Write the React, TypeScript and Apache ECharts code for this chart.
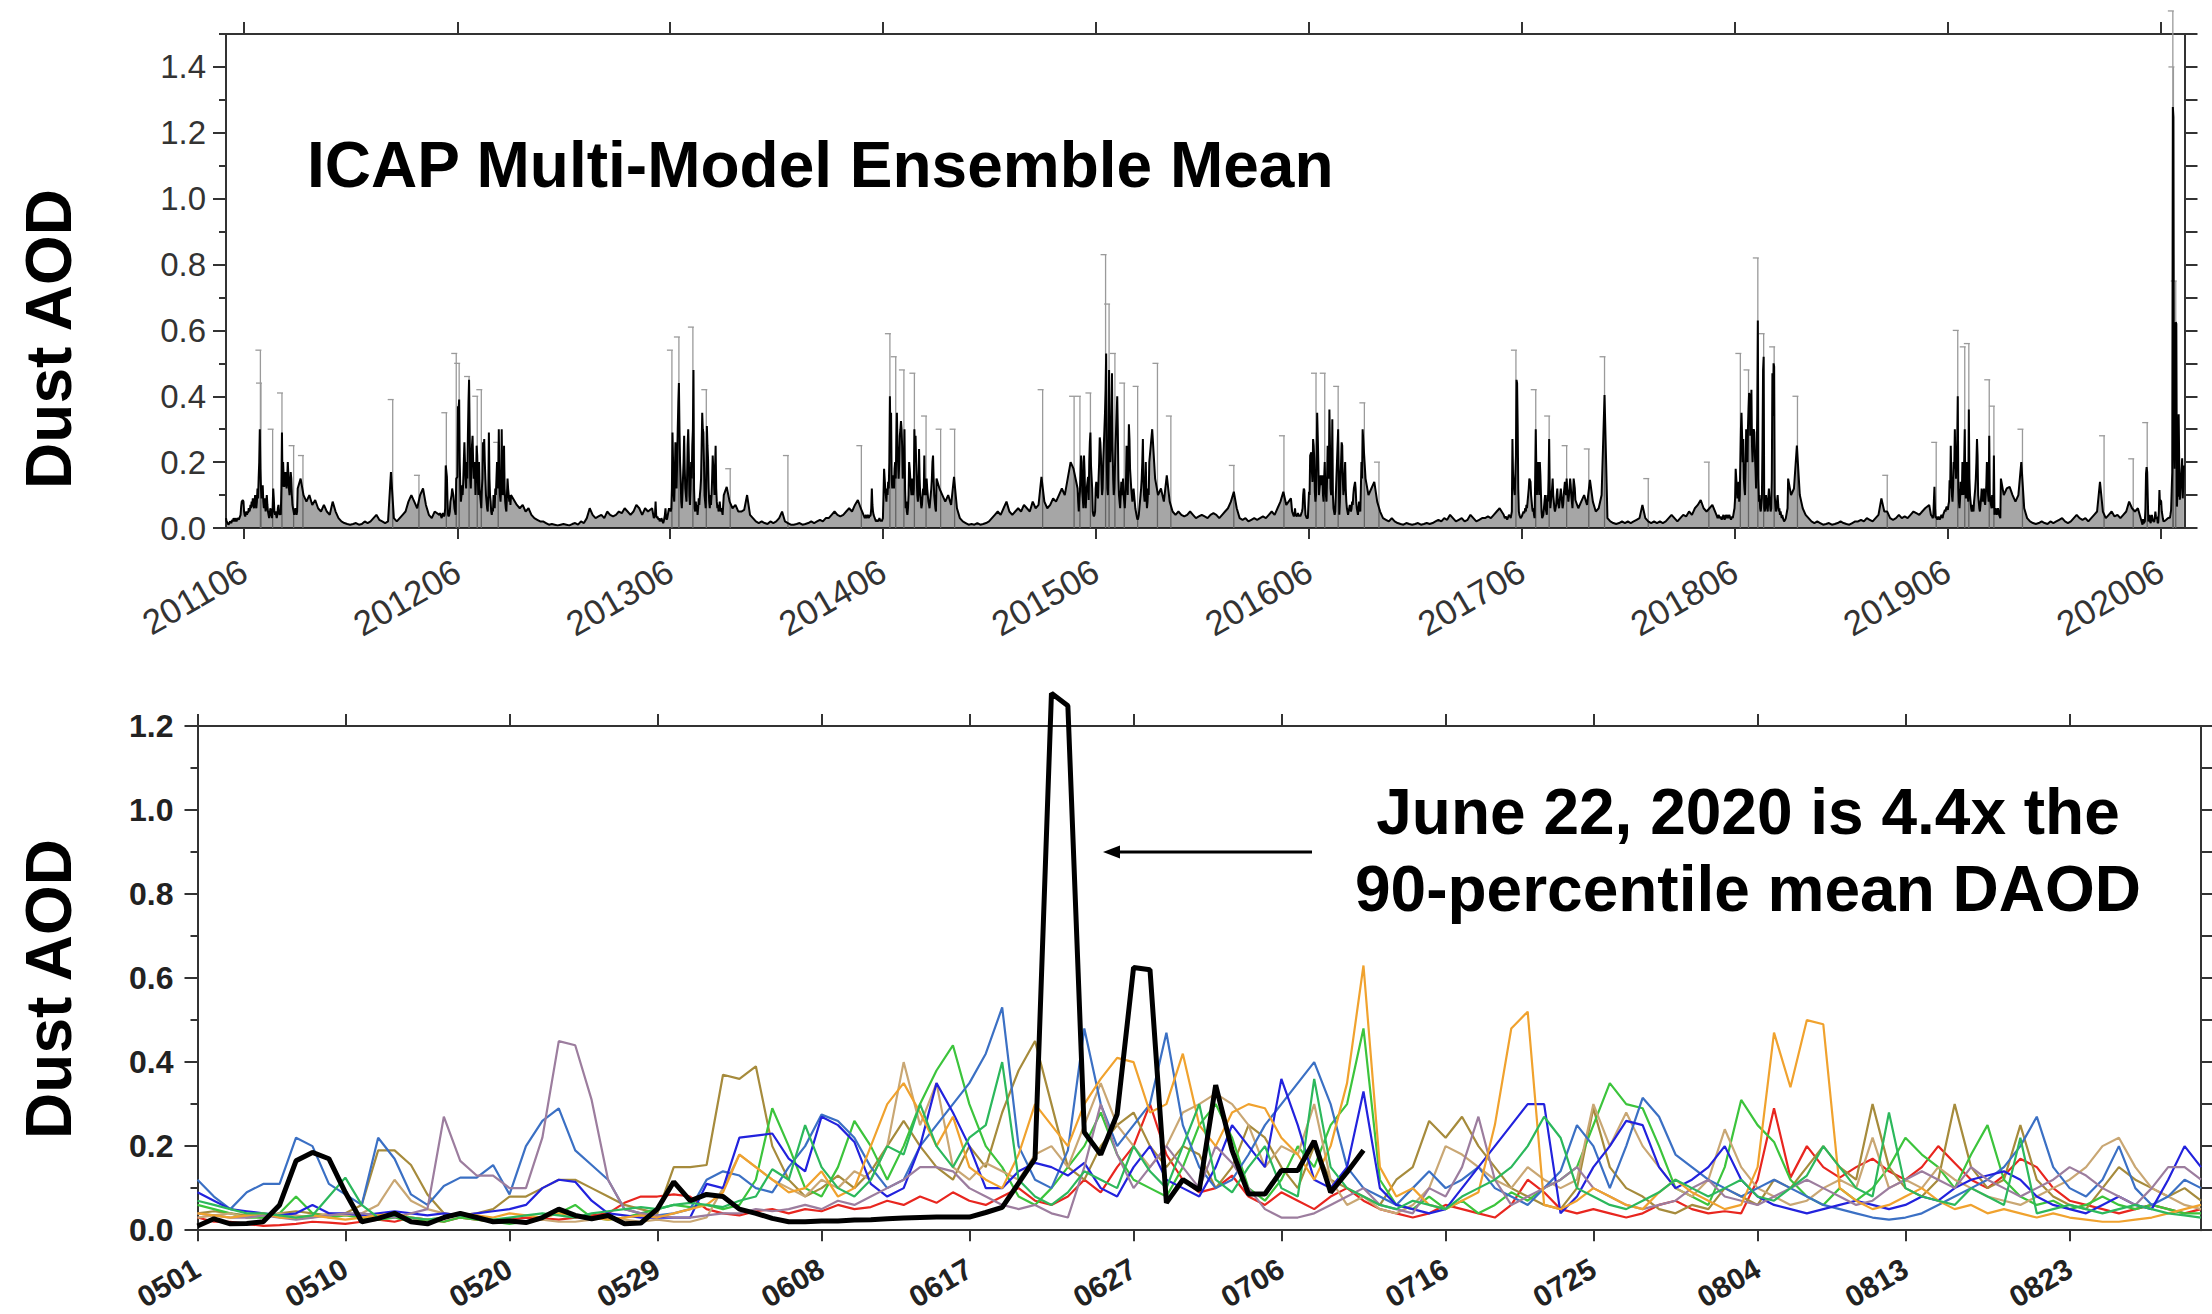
import React, { useEffect, useRef } from "react";
import * as echarts from "echarts";

// ---------- Bottom panel: daily dust AOD, May 1 (day 0) to Aug 31 (day 122) ----------
const dayTicks = [0, 9, 19, 28, 38, 47, 57, 66, 76, 85, 95, 104, 114];
const bottomYMajor = [0, 0.2, 0.4, 0.6, 0.8, 1.0, 1.2];
const topYMajor = [0, 0.2, 0.4, 0.6, 0.8, 1.0, 1.2, 1.4];
const topTickYears = [2011, 2012, 2013, 2014, 2015, 2016, 2017, 2018, 2019, 2020];

const y2011 = [
  0.03,0.02,0.02,0.015,0.01,0.012,0.015,0.02,0.018,0.015,
  0.02,0.025,0.02,0.03,0.025,0.02,0.03,0.025,0.02,0.025,
  0.03,0.028,0.025,0.03,0.035,0.04,0.065,0.08,0.08,0.085,
  0.08,0.05,0.04,0.035,0.045,0.05,0.04,0.05,0.045,0.06,
  0.05,0.055,0.07,0.06,0.08,0.065,0.09,0.07,0.06,0.08,
  0.1,0.07,0.06,0.08,0.12,0.09,0.15,0.2,0.3,0.18,
  0.12,0.09,0.1,0.13,0.08,0.06,0.09,0.07,0.05,0.08,
  0.1,0.07,0.05,0.04,0.03,0.04,0.06,0.05,0.04,0.03,
  0.06,0.12,0.09,0.05,0.04,0.05,0.04,0.03,0.04,0.06,
  0.07,0.05,0.04,0.045,0.04,0.12,0.29,0.125,0.2,0.15,
  0.125,0.15,0.17,0.14,0.12,0.15,0.2,0.16,0.12,0.1,
  0.13,0.17,0.15,0.1,0.07,0.06,0.05,0.04,0.05,0.06,
  0.05,0.04,0.05,
];
const y2012 = [
  0.04,0.045,0.04,0.035,0.03,0.04,0.045,0.04,0.035,0.04,
  0.06,0.19,0.19,0.155,0.085,0.04,0.035,0.04,0.05,0.08,
  0.08,0.1,0.12,0.12,0.1,0.08,0.06,0.05,0.04,0.15,
  0.15,0.155,0.37,0.36,0.39,0.2,0.12,0.08,0.1,0.13,
  0.1,0.14,0.2,0.26,0.2,0.15,0.12,0.2,0.15,0.28,
  0.38,0.45,0.3,0.15,0.12,0.2,0.25,0.28,0.2,0.15,
  0.2,0.18,0.1,0.15,0.25,0.22,0.15,0.1,0.2,0.12,
  0.1,0.08,0.06,0.12,0.15,0.26,0.22,0.27,0.2,0.15,
  0.1,0.08,0.06,0.05,0.1,0.29,0.15,0.1,0.08,0.05,
  0.04,0.06,0.05,0.1,0.08,0.06,0.12,0.1,0.15,0.2,
  0.15,0.12,0.3,0.15,0.1,0.08,0.12,0.3,0.15,0.1,
  0.12,0.25,0.12,0.08,0.06,0.05,0.1,0.15,0.12,0.1,
  0.08,0.1,0.07,
];
const y2013 = [
  0.06,0.05,0.04,0.03,0.03,0.04,0.08,0.04,0.03,0.035,
  0.03,0.025,0.03,0.02,0.025,0.02,0.03,0.025,0.02,0.015,
  0.02,0.03,0.04,0.06,0.03,0.025,0.03,0.04,0.05,0.06,
  0.055,0.06,0.05,0.06,0.12,0.29,0.2,0.1,0.08,0.15,
  0.26,0.2,0.12,0.2,0.3,0.38,0.44,0.3,0.2,0.15,
  0.08,0.06,0.1,0.15,0.2,0.28,0.18,0.12,0.1,0.08,
  0.15,0.25,0.3,0.22,0.1,0.07,0.12,0.2,0.15,0.25,
  0.3,0.48,0.12,0.06,0.05,0.08,0.05,0.07,0.04,0.06,
  0.09,0.07,0.1,0.12,0.15,0.25,0.35,0.3,0.29,0.2,
  0.1,0.08,0.06,0.15,0.31,0.25,0.21,0.12,0.08,0.06,
  0.1,0.07,0.1,0.15,0.22,0.18,0.15,0.1,0.18,0.25,
  0.12,0.08,0.06,0.07,0.05,0.06,0.08,0.06,0.05,0.06,
  0.05,0.04,0.04,
];
const y2014 = [
  0.03,0.035,0.04,0.03,0.035,0.04,0.035,0.03,0.04,0.035,
  0.04,0.06,0.12,0.07,0.05,0.04,0.035,0.03,0.025,0.02,
  0.02,0.025,0.02,0.02,0.025,0.03,0.025,0.02,0.025,0.02,
  0.02,0.03,0.1,0.18,0.15,0.12,0.1,0.08,0.12,0.1,
  0.14,0.12,0.2,0.4,0.25,0.35,0.15,0.12,0.16,0.14,
  0.12,0.18,0.2,0.15,0.25,0.35,0.25,0.2,0.15,0.2,
  0.28,0.3,0.325,0.3,0.25,0.15,0.2,0.18,0.3,0.12,
  0.06,0.08,0.05,0.04,0.06,0.1,0.2,0.18,0.15,0.12,
  0.1,0.15,0.12,0.1,0.12,0.3,0.2,0.28,0.2,0.15,
  0.1,0.08,0.12,0.24,0.15,0.1,0.08,0.06,0.07,0.1,
  0.12,0.1,0.22,0.1,0.12,0.1,0.15,0.12,0.1,0.08,
  0.07,0.06,0.08,0.1,0.12,0.15,0.2,0.22,0.15,0.1,
  0.08,0.06,0.05,
];
const y2015 = [
  0.12,0.08,0.05,0.09,0.11,0.11,0.22,0.2,0.11,0.085,
  0.06,0.22,0.17,0.085,0.06,0.105,0.125,0.125,0.155,0.085,
  0.2,0.26,0.29,0.19,0.155,0.12,0.05,0.04,0.035,0.04,
  0.05,0.12,0.14,0.13,0.1,0.09,0.15,0.2,0.275,0.26,
  0.22,0.15,0.1,0.12,0.2,0.25,0.3,0.35,0.42,0.53,
  0.2,0.12,0.1,0.19,0.48,0.3,0.2,0.25,0.3,0.47,
  0.25,0.15,0.1,0.12,0.18,0.25,0.3,0.35,0.4,0.3,
  0.15,0.1,0.08,0.06,0.1,0.14,0.1,0.12,0.15,0.1,
  0.08,0.06,0.1,0.14,0.25,0.2,0.1,0.2,0.315,0.27,
  0.18,0.15,0.12,0.1,0.08,0.1,0.12,0.1,0.08,0.06,
  0.05,0.04,0.03,0.025,0.03,0.04,0.06,0.08,0.1,0.12,
  0.15,0.2,0.27,0.15,0.1,0.08,0.12,0.2,0.1,0.06,
  0.08,0.12,0.1,
];
const y2016 = [
  0.09,0.07,0.05,0.045,0.04,0.035,0.04,0.06,0.04,0.04,
  0.035,0.04,0.045,0.04,0.035,0.04,0.035,0.04,0.045,0.05,
  0.06,0.1,0.12,0.115,0.07,0.04,0.035,0.03,0.03,0.03,
  0.03,0.11,0.1,0.22,0.225,0.23,0.17,0.14,0.27,0.25,
  0.21,0.11,0.08,0.1,0.2,0.35,0.28,0.2,0.1,0.1,
  0.14,0.16,0.15,0.13,0.16,0.1,0.08,0.15,0.2,0.12,
  0.1,0.08,0.15,0.25,0.2,0.15,0.36,0.25,0.12,0.1,
  0.15,0.33,0.1,0.06,0.05,0.04,0.05,0.1,0.15,0.2,
  0.25,0.3,0.3,0.04,0.08,0.15,0.2,0.26,0.25,0.15,
  0.1,0.12,0.15,0.2,0.12,0.08,0.06,0.05,0.04,0.05,
  0.06,0.07,0.06,0.05,0.06,0.08,0.07,0.1,0.12,0.13,
  0.14,0.12,0.08,0.06,0.05,0.04,0.06,0.08,0.06,0.05,
  0.12,0.2,0.15,
];
const y2017 = [
  0.04,0.035,0.03,0.03,0.035,0.03,0.025,0.03,0.035,0.04,
  0.04,0.035,0.03,0.04,0.05,0.27,0.165,0.13,0.13,0.1,
  0.1,0.22,0.45,0.44,0.31,0.12,0.05,0.04,0.035,0.03,
  0.03,0.035,0.04,0.04,0.05,0.045,0.05,0.06,0.05,0.07,
  0.06,0.08,0.1,0.12,0.15,0.15,0.14,0.1,0.08,0.06,
  0.05,0.06,0.04,0.03,0.15,0.3,0.18,0.1,0.15,0.2,
  0.15,0.1,0.2,0.16,0.1,0.05,0.03,0.03,0.04,0.06,
  0.08,0.1,0.06,0.05,0.04,0.1,0.08,0.15,0.27,0.12,
  0.06,0.08,0.1,0.12,0.15,0.1,0.08,0.06,0.05,0.06,
  0.07,0.1,0.12,0.08,0.07,0.06,0.08,0.1,0.12,0.1,
  0.08,0.06,0.07,0.1,0.12,0.14,0.12,0.1,0.15,0.12,
  0.1,0.08,0.1,0.12,0.15,0.13,0.1,0.08,0.06,0.1,
  0.15,0.15,0.12,
];
const y2018 = [
  0.04,0.035,0.03,0.035,0.04,0.03,0.03,0.035,0.03,0.025,
  0.03,0.035,0.04,0.03,0.025,0.03,0.04,0.035,0.03,0.04,
  0.035,0.03,0.04,0.035,0.03,0.025,0.03,0.035,0.03,0.04,
  0.05,0.06,0.09,0.18,0.15,0.12,0.09,0.1,0.14,0.08,
  0.1,0.2,0.3,0.35,0.28,0.2,0.27,0.15,0.12,0.1,
  0.18,0.3,0.25,0.2,0.3,0.36,0.41,0.4,0.28,0.3,
  0.42,0.25,0.2,0.28,0.3,0.29,0.22,0.18,0.12,0.2,
  0.35,0.63,0.15,0.08,0.1,0.06,0.05,0.07,0.09,0.25,
  0.48,0.52,0.06,0.05,0.07,0.1,0.08,0.06,0.05,0.09,
  0.12,0.09,0.07,0.05,0.06,0.15,0.47,0.34,0.5,0.49,
  0.1,0.07,0.05,0.06,0.08,0.1,0.07,0.05,0.06,0.04,
  0.05,0.04,0.03,0.04,0.03,0.025,0.02,0.02,0.025,0.03,
  0.04,0.05,0.06,
];
const y2019 = [
  0.07,0.06,0.05,0.04,0.04,0.035,0.03,0.035,0.08,0.125,
  0.06,0.03,0.035,0.03,0.025,0.03,0.035,0.03,0.025,0.03,
  0.035,0.04,0.035,0.03,0.04,0.045,0.05,0.055,0.05,0.06,
  0.065,0.06,0.055,0.07,0.08,0.145,0.12,0.25,0.15,0.1,
  0.08,0.12,0.2,0.18,0.3,0.2,0.15,0.22,0.25,0.4,
  0.12,0.08,0.06,0.09,0.14,0.12,0.1,0.2,0.14,0.1,
  0.2,0.3,0.12,0.09,0.15,0.2,0.1,0.08,0.36,0.15,
  0.1,0.08,0.06,0.05,0.07,0.06,0.05,0.08,0.1,0.12,
  0.15,0.2,0.27,0.22,0.1,0.08,0.06,0.05,0.07,0.09,
  0.12,0.1,0.08,0.1,0.12,0.08,0.07,0.1,0.13,0.2,
  0.15,0.1,0.08,0.28,0.1,0.08,0.07,0.06,0.1,0.08,
  0.06,0.22,0.04,0.05,0.06,0.05,0.04,0.05,0.06,0.05,
  0.04,0.035,0.03,
];
// 2020, May 1 .. Jul 11
const y2020 = [
  0.01,0.027,0.015,0.016,0.02,0.06,0.165,0.185,0.17,0.09,
  0.02,0.028,0.04,0.02,0.015,0.03,0.04,0.03,0.02,0.022,
  0.018,0.03,0.05,0.035,0.027,0.035,0.015,0.017,0.05,0.115,
  0.07,0.085,0.08,0.05,0.04,0.028,0.02,0.02,0.022,0.022,
  0.024,0.025,0.027,0.029,0.03,0.031,0.031,0.031,0.042,0.054,
  0.112,0.17,1.278,1.248,0.233,0.18,0.276,0.625,0.62,0.065,
  0.12,0.095,0.345,0.19,0.086,0.086,0.142,0.142,0.212,0.09,
  0.138,0.19,
];

// ---------- Top panel off-season values: every 5 days from Sep 1 to late April ----------
const off2011 = [0.12,0.15,0.1,0.08,0.1,0.07, 0.085,0.06,0.05,0.07,0.05,0.04, 0.08,0.05,0.03,0.02,0.015,0.012, 0.01,0.012,0.015,0.01,0.012,0.02, 0.015,0.02,0.03,0.04,0.025,0.02, 0.015,0.02,0.17,0.03,0.02,0.03, 0.04,0.05,0.08,0.1,0.08,0.06, 0.1,0.12,0.07,0.04,0.03,0.05];
const off2012 = [0.1,0.085,0.07,0.06,0.07,0.05, 0.06,0.04,0.03,0.025,0.02,0.02, 0.015,0.01,0.012,0.01,0.008,0.01, 0.012,0.01,0.008,0.012,0.015,0.01, 0.02,0.015,0.03,0.06,0.04,0.03, 0.035,0.04,0.03,0.05,0.04,0.035, 0.04,0.05,0.045,0.06,0.05,0.04, 0.05,0.07,0.06,0.04,0.06,0.05];
const off2013 = [0.1,0.125,0.08,0.06,0.07,0.05, 0.05,0.055,0.1,0.04,0.03,0.02, 0.015,0.02,0.015,0.012,0.02,0.015, 0.02,0.03,0.05,0.02,0.015,0.01, 0.01,0.012,0.015,0.01,0.012,0.015, 0.02,0.015,0.02,0.025,0.02,0.03, 0.03,0.04,0.05,0.04,0.035,0.04, 0.05,0.06,0.05,0.07,0.085,0.06];
const off2014 = [0.15,0.12,0.1,0.08,0.1,0.07, 0.155,0.06,0.03,0.02,0.015,0.01, 0.012,0.01,0.015,0.01,0.012,0.015, 0.02,0.03,0.04,0.05,0.04,0.06, 0.08,0.05,0.04,0.05,0.06,0.05, 0.07,0.06,0.05,0.08,0.06,0.07, 0.155,0.08,0.06,0.07,0.09,0.08, 0.1,0.12,0.1,0.15,0.2,0.18];
const off2015 = [0.2,0.3,0.15,0.1,0.12,0.08, 0.16,0.08,0.05,0.04,0.05,0.04, 0.035,0.04,0.05,0.04,0.03,0.035, 0.04,0.035,0.03,0.04,0.045,0.04, 0.03,0.04,0.05,0.06,0.08,0.11, 0.06,0.03,0.025,0.03,0.02,0.025, 0.03,0.025,0.03,0.035,0.03,0.04, 0.05,0.04,0.06,0.08,0.11,0.07];
const off2016 = [0.3,0.15,0.1,0.12,0.14,0.08, 0.05,0.03,0.025,0.02,0.03,0.02, 0.015,0.012,0.01,0.015,0.012,0.01, 0.012,0.015,0.01,0.012,0.015,0.012, 0.015,0.02,0.025,0.02,0.03,0.025, 0.04,0.03,0.02,0.025,0.03,0.02, 0.025,0.04,0.03,0.02,0.025,0.03, 0.03,0.035,0.03,0.04,0.05,0.06];
const off2017 = [0.085,0.06,0.08,0.1,0.07,0.146, 0.08,0.05,0.06,0.1,0.404,0.03, 0.02,0.015,0.012,0.015,0.02,0.015, 0.02,0.015,0.02,0.025,0.03,0.07, 0.03,0.02,0.015,0.02,0.015,0.02, 0.015,0.02,0.03,0.04,0.03,0.02, 0.03,0.04,0.035,0.05,0.04,0.06, 0.07,0.085,0.06,0.05,0.06,0.07];
const off2018 = [0.15,0.1,0.12,0.25,0.1,0.06, 0.04,0.03,0.02,0.015,0.02,0.015, 0.01,0.012,0.015,0.01,0.012,0.015, 0.02,0.015,0.012,0.01,0.015,0.02, 0.02,0.025,0.02,0.03,0.025,0.02, 0.03,0.04,0.09,0.05,0.05,0.03, 0.025,0.03,0.04,0.03,0.035,0.03, 0.04,0.05,0.045,0.04,0.05,0.06];
const off2019 = [0.15,0.1,0.12,0.125,0.1,0.08, 0.1,0.2,0.06,0.03,0.02,0.015, 0.012,0.015,0.02,0.015,0.012,0.02, 0.015,0.02,0.025,0.03,0.02,0.015, 0.02,0.03,0.04,0.03,0.025,0.03, 0.02,0.03,0.04,0.05,0.14,0.05, 0.03,0.04,0.05,0.035,0.04,0.03, 0.04,0.05,0.08,0.06,0.05,0.06];

// Ensemble spread tops (gray bars)
const spreadTops: [string, number][] = [
  ["2011-06-29",0.54],["2011-06-30",0.44],["2011-07-20",0.3],["2011-08-05",0.41],["2011-08-25",0.25],["2011-09-10",0.22],["2012-02-11",0.39],["2012-03-27",0.16],
  ["2012-05-13",0.35],["2012-05-30",0.53],["2012-06-04",0.5],["2012-06-21",0.46],["2012-07-05",0.4],["2012-07-12",0.42],["2012-08-10",0.26],
  ["2013-06-04",0.54],["2013-06-16",0.58],["2013-07-10",0.61],["2013-08-02",0.42],["2013-09-12",0.18],["2013-12-20",0.22],["2014-04-25",0.25],
  ["2014-06-13",0.59],["2014-06-23",0.52],["2014-07-07",0.48],["2014-07-25",0.47],["2014-08-14",0.34],["2014-09-08",0.3],["2014-10-02",0.3],["2015-03-02",0.42],["2015-04-25",0.4],["2015-05-05",0.4],
  ["2015-05-23",0.41],["2015-06-18",0.83],["2015-06-24",0.68],["2015-07-04",0.53],["2015-07-20",0.44],["2015-08-12",0.43],["2015-09-15",0.5],["2015-10-08",0.34],["2016-01-24",0.19],["2016-04-19",0.28],
  ["2016-06-13",0.47],["2016-06-28",0.47],["2016-07-21",0.43],["2016-09-04",0.38],["2016-09-29",0.2],
  ["2017-05-22",0.54],["2017-06-25",0.42],["2017-07-18",0.34],["2017-08-17",0.25],["2017-09-24",0.24],["2017-10-21",0.52],["2018-01-04",0.15],["2018-04-18",0.2],
  ["2018-06-11",0.53],["2018-06-25",0.48],["2018-07-11",0.82],["2018-07-21",0.59],["2018-08-08",0.55],["2018-09-17",0.4],["2019-02-18",0.16],["2019-05-13",0.26],
  ["2019-06-19",0.6],["2019-07-01",0.55],["2019-07-08",0.56],["2019-08-12",0.45],["2019-08-20",0.37],["2019-10-08",0.3],["2020-02-25",0.28],["2020-04-15",0.21],["2020-05-09",0.32],
  ["2020-06-22",1.57],["2020-06-23",1.4],["2020-06-27",0.75],
];

const yearSeries: [number, number[], number[], string][] = [
  [2011, y2011, off2011, "#e8261f"],
  [2012, y2012, off2012, "#a68b3c"],
  [2013, y2013, off2013, "#3cc43c"],
  [2014, y2014, off2014, "#c9a774"],
  [2015, y2015, off2015, "#3b70c4"],
  [2016, y2016, off2016, "#2222dd"],
  [2017, y2017, off2017, "#9c7d9e"],
  [2018, y2018, off2018, "#f0a22e"],
  [2019, y2019, off2019, "#2cb85c"],
];

const FONT = '"Liberation Sans", Arial, Helvetica, sans-serif';

export default function App() {
  const ref = useRef<HTMLDivElement>(null);
  useEffect(() => {
    document.body.style.margin = "0";
    document.body.style.overflow = "hidden";
    const chart = echarts.init(ref.current!, null, { renderer: "svg" });

    const topMean: [number, number][] = [];
    yearSeries.forEach(([yr, season, off]) => {
      season.forEach((v, d) => topMean.push([Date.UTC(yr, 4, 1 + d), v]));
      off.forEach((v, k) => topMean.push([Date.UTC(yr, 8, 1 + 5 * k), v]));
    });
    y2020.forEach((v, d) => topMean.push([Date.UTC(2020, 4, 1 + d), v]));

    const spreadData = spreadTops.map(([d, v]) => [Date.parse(d), v]);
    const juneTicks = topTickYears.map((y) => Date.UTC(y, 5, 1));
    const tMin = Date.UTC(2011, 4, 1);
    const tMax = Date.UTC(2020, 6, 12);

    const axisLine = { show: true, onZero: false, lineStyle: { color: "#333", width: 2 } };
    const noLine = { show: false, onZero: false };
    const tickStyle = { color: "#333", width: 2 };
    const fmtYM = (v: number) => {
      const d = new Date(v);
      return d.getUTCFullYear() + String(d.getUTCMonth() + 1).padStart(2, "0");
    };
    const fmtMD = (v: number) => {
      const d = new Date(Date.UTC(2019, 4, 1 + Math.round(v)));
      return String(d.getUTCMonth() + 1).padStart(2, "0") + String(d.getUTCDate()).padStart(2, "0");
    };

    const bottomSeries = yearSeries.map(([yr, season, , color]) => ({
      name: String(yr),
      type: "line",
      xAxisIndex: 2,
      yAxisIndex: 3,
      data: season.map((v, d) => [d, v]),
      symbol: "none",
      lineStyle: { color, width: 2.2 },
      z: 3,
    }));

    const option: any = {
      animation: false,
      backgroundColor: "#fff",
      grid: [
        { left: 226, top: 34, width: 1958.5, height: 494 },
        { left: 197.5, top: 726, width: 2003.5, height: 507 },
      ],
      xAxis: [
        {
          type: "value", gridIndex: 0, position: "bottom", min: tMin, max: tMax,
          axisLine,
          axisTick: { show: true, customValues: juneTicks, length: 11, lineStyle: tickStyle },
          axisLabel: { show: true, customValues: juneTicks, formatter: fmtYM, rotate: 30, fontSize: 35, color: "#333", fontFamily: FONT, margin: 40 },
          splitLine: { show: false },
        },
        {
          type: "value", gridIndex: 0, position: "top", min: tMin, max: tMax,
          axisLine,
          axisTick: { show: true, customValues: juneTicks, length: 12, lineStyle: tickStyle },
          axisLabel: { show: false },
          splitLine: { show: false },
        },
        {
          type: "value", gridIndex: 1, position: "bottom", min: 0, max: 122,
          axisLine,
          axisTick: { show: true, customValues: dayTicks, length: 11, lineStyle: tickStyle },
          axisLabel: { show: true, customValues: dayTicks, formatter: fmtMD, rotate: 30, fontSize: 30, fontWeight: "bold", color: "#222", fontFamily: FONT, margin: 36 },
          splitLine: { show: false },
        },
        {
          type: "value", gridIndex: 1, position: "top", min: 0, max: 122,
          axisLine,
          axisTick: { show: true, customValues: dayTicks, length: 12, lineStyle: tickStyle },
          axisLabel: { show: false },
          splitLine: { show: false },
        },
      ],
      yAxis: [
        {
          type: "value", gridIndex: 0, position: "left", min: 0, max: 1.5, interval: 0.1,
          axisLine,
          axisTick: { show: true, length: 7, lineStyle: tickStyle },
          axisLabel: { show: true, customValues: topYMajor, formatter: (v: number) => v.toFixed(1), fontSize: 33, color: "#333", fontFamily: FONT, margin: 20 },
          splitLine: { show: false },
        },
        {
          type: "value", gridIndex: 0, position: "right", min: 0, max: 1.5, interval: 0.1,
          axisLine,
          axisTick: { show: true, length: 13, lineStyle: tickStyle },
          axisLabel: { show: false },
          splitLine: { show: false },
        },
        {
          type: "value", gridIndex: 0, position: "left", min: 0, max: 1.5,
          axisLine: noLine,
          axisTick: { show: true, customValues: topYMajor, length: 13, lineStyle: tickStyle },
          axisLabel: { show: false },
          splitLine: { show: false },
        },
        {
          type: "value", gridIndex: 1, position: "left", min: 0, max: 1.2, interval: 0.1,
          axisLine,
          axisTick: { show: true, length: 7, lineStyle: tickStyle },
          axisLabel: { show: true, customValues: bottomYMajor, formatter: (v: number) => v.toFixed(1), fontSize: 32, fontWeight: "bold", color: "#222", fontFamily: FONT, margin: 24 },
          splitLine: { show: false },
        },
        {
          type: "value", gridIndex: 1, position: "right", min: 0, max: 1.2, interval: 0.1,
          axisLine,
          axisTick: { show: true, length: 12, lineStyle: tickStyle },
          axisLabel: { show: false },
          splitLine: { show: false },
        },
        {
          type: "value", gridIndex: 1, position: "left", min: 0, max: 1.2,
          axisLine: noLine,
          axisTick: { show: true, customValues: bottomYMajor, length: 13, lineStyle: tickStyle },
          axisLabel: { show: false },
          splitLine: { show: false },
        },
      ],
      series: [
        {
          name: "spread",
          type: "custom",
          xAxisIndex: 0,
          yAxisIndex: 0,
          clip: false,
          data: spreadData,
          z: 1,
          renderItem: (params: any, api: any) => {
            const base = api.coord([api.value(0), 0]);
            const top = api.coord([api.value(0), api.value(1)]);
            return {
              type: "group",
              children: [
                { type: "line", shape: { x1: base[0], y1: base[1], x2: top[0], y2: top[1] }, style: { stroke: "#9a9a9a", lineWidth: 1.3 } },
                { type: "line", shape: { x1: top[0] - 5, y1: top[1], x2: top[0] + 1, y2: top[1] }, style: { stroke: "#9a9a9a", lineWidth: 1.3 } },
              ],
            };
          },
        },
        {
          name: "ICAP MME",
          type: "line",
          xAxisIndex: 0,
          yAxisIndex: 0,
          data: topMean,
          symbol: "none",
          lineStyle: { color: "#000", width: 2 },
          areaStyle: { color: "rgba(0,0,0,0.5)" },
          z: 2,
        },
        ...bottomSeries,
        {
          name: "2020",
          type: "line",
          xAxisIndex: 2,
          yAxisIndex: 3,
          clip: false,
          data: y2020.map((v, d) => [d, v]),
          symbol: "none",
          lineStyle: { color: "#000", width: 5 },
          z: 5,
        },
      ],
      graphic: [
        {
          type: "text", x: 307, y: 165,
          style: { text: "ICAP Multi-Model Ensemble Mean", fill: "#000", font: `bold 64px ${FONT}`, textAlign: "left", textVerticalAlign: "middle", align: "left", verticalAlign: "middle" },
        },
        {
          type: "text", x: 49, y: 339, rotation: Math.PI / 2,
          style: { text: "Dust AOD", fill: "#000", font: `bold 64px ${FONT}`, textAlign: "center", textVerticalAlign: "middle", align: "center", verticalAlign: "middle" },
        },
        {
          type: "text", x: 49, y: 989, rotation: Math.PI / 2,
          style: { text: "Dust AOD", fill: "#000", font: `bold 64px ${FONT}`, textAlign: "center", textVerticalAlign: "middle", align: "center", verticalAlign: "middle" },
        },
        {
          type: "text", x: 1748, y: 812,
          style: { text: "June 22, 2020 is 4.4x the", fill: "#000", font: `bold 64px ${FONT}`, textAlign: "center", textVerticalAlign: "middle", align: "center", verticalAlign: "middle" },
        },
        {
          type: "text", x: 1748, y: 889,
          style: { text: "90-percentile mean DAOD", fill: "#000", font: `bold 64px ${FONT}`, textAlign: "center", textVerticalAlign: "middle", align: "center", verticalAlign: "middle" },
        },
        {
          type: "line",
          shape: { x1: 1312, y1: 852, x2: 1112, y2: 852 },
          style: { stroke: "#000", lineWidth: 3 },
        },
        {
          type: "polygon",
          shape: { points: [[1103, 852], [1120, 845.5], [1120, 858.5]] },
          style: { fill: "#000" },
        },
      ],
    };

    chart.setOption(option);
    return () => chart.dispose();
  }, []);

  return <div ref={ref} style={{ position: "absolute", left: 0, top: 0, width: 2212, height: 1314 }} />;
}
